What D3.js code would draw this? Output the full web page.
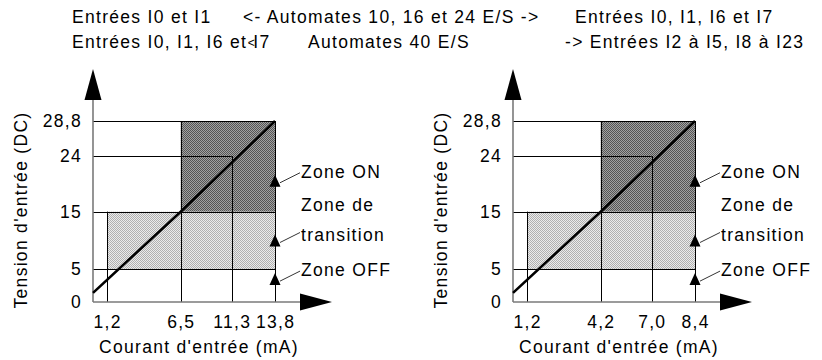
<!DOCTYPE html>
<html>
<head>
<meta charset="utf-8">
<script src="https://cdn.jsdelivr.net/npm/d3@7"></script>
<style>
  html, body { margin: 0; padding: 0; background: #fff; }
  svg { display: block; }
  text { font-family: "Liberation Sans", Arial, sans-serif; font-size: 17.5px; letter-spacing: 1.3px; fill: #000; }
</style>
</head>
<body>
<svg id="chart" width="822" height="360"></svg>
<script>
// Header lines
const headerLine1 = ["Entrées I0 et I1", "<- Automates 10, 16 et 24 E/S ->", "Entrées I0, I1, I6 et I7"];
const headerLine2 = ["Entrées I0, I1, I6 et I7", "Automates 40 E/S", "-> Entrées I2 à I5, I8 à I23"];

// Voltage axis (shared by both panels)
const voltageTicks = [0, 5, 15, 24, 28.8];
const voltageLabels = ["0", "5", "15", "24", "28,8"];

// Current axis, panel A (10, 16, 24 I/O) and panel B (40 I/O)
const currentTicksA = [1.2, 6.5, 11.3, 13.8];
const currentLabelsA = ["1,2", "6,5", "11,3", "13,8"];
const currentTicksB = [1.2, 4.2, 7.0, 8.4];
const currentLabelsB = ["1,2", "4,2", "7,0", "8,4"];

// Input characteristic (current, voltage)
const curveCurrentA = [0, 6.5, 13.8];
const curveCurrentB = [0, 4.2, 8.4];
const curveVoltage = [1.4, 15, 28.8];

// Zones: voltage bounds
const onZoneVoltage = [15, 28.8];
const transitionZoneVoltage = [5, 15];

// Guide lines: horizontal at voltage v running to current tick index
const hGuideVoltage = [28.8, 24, 15, 5];
const hGuideTickIndex = [3, 2, 3, 3];
// Vertical guide at each current tick, up to voltage
const vGuideVoltage = [15, 28.8, 24, 28.8];

// Zone markers (voltage) and labels
const zoneMarkerVoltage = [20, 10, 3.5];
const zoneLabels = [["Zone ON"], ["Zone de", "transition"], ["Zone OFF"]];

const axisTitleX = "Courant d'entrée (mA)";
const axisTitleY = "Tension d'entrée (DC)";

const svg = d3.select("#chart");

// Hatch patterns for the zones
const defs = svg.append("defs");
function checker(id, a, b) {
  const p = defs.append("pattern").attr("id", id)
    .attr("patternUnits", "userSpaceOnUse").attr("width", 2).attr("height", 2);
  p.append("rect").attr("width", 2).attr("height", 2).attr("fill", b);
  p.append("rect").attr("width", 1).attr("height", 1).attr("fill", a);
  p.append("rect").attr("x", 1).attr("y", 1).attr("width", 1).attr("height", 1).attr("fill", a);
}
checker("hatchOn", "#555", "#a2a2a2");
checker("hatchTrans", "#b0b0b0", "#ebebeb");

// Header text
const headerX1 = [72, 243, 575];
const headerX2 = [72, 308, 565];
svg.selectAll(".h1").data(headerLine1).join("text").attr("class", "h1")
  .attr("x", (d, i) => headerX1[i]).attr("y", 23).text(d => d);
const line2 = svg.selectAll(".h2").data(headerLine2).join("text").attr("class", "h2")
  .attr("x", (d, i) => headerX2[i]).attr("y", 48).text(d => d);

// the small arrow glyph drawn against the "I" of "I7" on the second line
(function () {
  const t = line2.nodes()[0];
  const idx = headerLine2[0].lastIndexOf("I");
  const pos = t.getStartPositionOfChar(idx);
  svg.append("text").attr("x", pos.x - 5.5).attr("y", 47)
    .style("font-size", "12px").style("letter-spacing", "0px").text("<");
})();

function drawPanel(ox, ticks, tickLabels, curveCurrent) {
  const g = svg.append("g");
  const x = d3.scaleLinear().domain([0, ...ticks]).range([ox, ox + 14, ox + 87.7, ox + 138.7, ox + 182]);
  const y = d3.scaleLinear().domain(voltageTicks).range([302, 269.3, 211.7, 156, 121]);
  const iMax = ticks[3];

  // zone fills
  g.append("rect").attr("x", x(ticks[0])).attr("y", y(transitionZoneVoltage[1]))
    .attr("width", x(iMax) - x(ticks[0])).attr("height", y(transitionZoneVoltage[0]) - y(transitionZoneVoltage[1]))
    .attr("fill", "url(#hatchTrans)");
  g.append("rect").attr("x", x(ticks[1])).attr("y", y(onZoneVoltage[1]))
    .attr("width", x(iMax) - x(ticks[1])).attr("height", y(onZoneVoltage[0]) - y(onZoneVoltage[1]))
    .attr("fill", "url(#hatchOn)");

  // guide lines
  g.selectAll(".hg").data(hGuideVoltage).join("line")
    .attr("x1", x(0)).attr("x2", (d, i) => x(ticks[hGuideTickIndex[i]]))
    .attr("y1", d => Math.round(y(d)) + 0.5).attr("y2", d => Math.round(y(d)) + 0.5)
    .attr("stroke", "#000").attr("stroke-width", 1);
  g.selectAll(".vg").data(ticks).join("line")
    .attr("x1", d => Math.round(x(d)) + 0.5).attr("x2", d => Math.round(x(d)) + 0.5)
    .attr("y1", (d, i) => y(vGuideVoltage[i])).attr("y2", y(0))
    .attr("stroke", "#000").attr("stroke-width", 1);

  // axes with arrowheads
  g.append("line").attr("x1", x(0)).attr("x2", x(0)).attr("y1", 99).attr("y2", y(0))
    .attr("stroke", "#7a7a7a").attr("stroke-width", 1.6);
  g.append("line").attr("x1", x(0)).attr("x2", x(0) + 208).attr("y1", y(0)).attr("y2", y(0))
    .attr("stroke", "#7a7a7a").attr("stroke-width", 1.6);
  g.append("path").attr("d", `M${x(0)},69L${x(0) + 8.5},100L${x(0) - 8.5},100Z`).attr("fill", "#000");
  g.append("path").attr("d", `M${x(0) + 239},${y(0)}L${x(0) + 207},${y(0) - 8.5}L${x(0) + 207},${y(0) + 8.5}Z`).attr("fill", "#000");

  // characteristic
  const line = d3.line().x(d => x(d[0])).y(d => y(d[1]));
  g.append("path").datum(curveCurrent.map((c, i) => [c, curveVoltage[i]]))
    .attr("d", line).attr("fill", "none").attr("stroke", "#000").attr("stroke-width", 2.6);

  // zone markers and labels
  zoneMarkerVoltage.forEach((v, i) => {
    const mx = x(iMax), my = y(v);
    g.append("path").attr("d", `M${mx},${my - 6}L${mx + 5.5},${my + 6}L${mx - 5.5},${my + 6}Z`).attr("fill", "#000");
    g.append("line").attr("x1", mx + 5).attr("y1", my + 2).attr("x2", mx + 25).attr("y2", my - 8)
      .attr("stroke", "#000").attr("stroke-width", 0.8);
    const lines = zoneLabels[i];
    lines.forEach((t, k) => {
      g.append("text").attr("x", mx + 26)
        .attr("y", lines.length > 1 ? my - (lines.length - 1 - k) * 30 : my - 3)
        .text(t);
    });
  });

  // tick labels
  g.selectAll(".yl").data(voltageTicks).join("text")
    .attr("x", x(0) - 11).attr("y", d => y(d)).attr("dy", "0.35em")
    .attr("text-anchor", "end").text((d, i) => voltageLabels[i]);
  g.selectAll(".xl").data(ticks).join("text")
    .attr("x", d => x(d) + 0.6).attr("y", 328)
    .attr("text-anchor", "middle").text((d, i) => tickLabels[i]);

  // axis titles
  g.append("text").attr("x", x(0) + 106).attr("y", 353).attr("text-anchor", "middle").text(axisTitleX);
  g.append("text").attr("transform", `translate(${x(0) - 66},210) rotate(-90)`)
    .attr("text-anchor", "middle").text(axisTitleY);
}

drawPanel(93, currentTicksA, currentLabelsA, curveCurrentA);
drawPanel(513, currentTicksB, currentLabelsB, curveCurrentB);
</script>
</body>
</html>
